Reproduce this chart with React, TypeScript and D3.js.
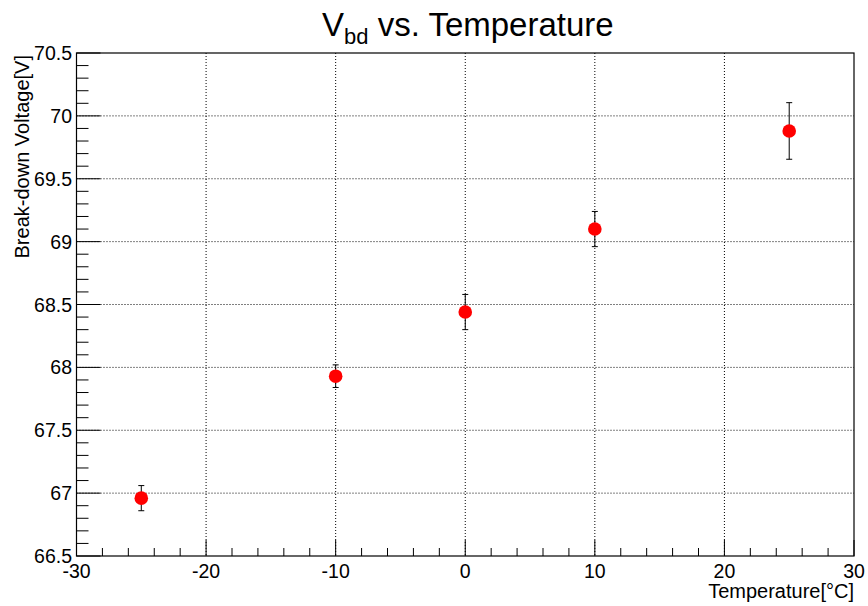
import React from "react";
import * as d3 from "d3";

const temperatures = [-25, -10, 0, 10, 25];
const vbd = [66.96, 67.93, 68.44, 69.10, 69.88];
const vbdErr = [0.1, 0.09, 0.14, 0.14, 0.225];
const xTicks = [-30, -20, -10, 0, 10, 20, 30];
const yTicks = [66.5, 67, 67.5, 68, 68.5, 69, 69.5, 70, 70.5];

const W = 868, H = 606;
const L = 76.5, R = 854, T = 53, B = 556;

export default function App() {
  const x = d3.scaleLinear().domain([-30, 30]).range([L, R]);
  const y = d3.scaleLinear().domain([66.5, 70.5]).range([B, T]);
  const xMinor = d3.range(-30, 30.001, 2);
  const yMinor = d3.range(66.5, 70.5001, 0.1);
  const font = "'Liberation Sans', Arial, Helvetica, sans-serif";
  return (
    <svg width={W} height={H} style={{ position: "absolute", left: 0, top: 0 }} fontFamily={font}>
      <rect width={W} height={H} fill="#fff" />
      {/* grid */}
      {xTicks.slice(1, -1).map((t) => (
        <line key={"gx" + t} x1={x(t)} x2={x(t)} y1={T} y2={B} stroke="#000" strokeWidth={1} strokeDasharray="1,2" />
      ))}
      {yTicks.slice(1, -1).map((t) => (
        <line key={"gy" + t} x1={L} x2={R} y1={y(t)} y2={y(t)} stroke="#000" strokeWidth={1} strokeDasharray="1,2" />
      ))}
      {/* frame */}
      <rect x={L} y={T} width={R - L} height={B - T} fill="none" stroke="#000" strokeWidth={1.2} />
      {/* x ticks */}
      {xMinor.map((t, i) => (
        <line key={"xm" + i} x1={x(t)} x2={x(t)} y1={B} y2={B - (i % 5 === 0 ? 16 : 8)} stroke="#000" strokeWidth={1} />
      ))}
      {yMinor.map((t, i) => (
        <line key={"ym" + i} x1={L} x2={L + (i % 5 === 0 ? 24 : 12)} y1={y(t)} y2={y(t)} stroke="#000" strokeWidth={1} />
      ))}
      {xTicks.map((t) => (
        <text key={"xl" + t} x={x(t)} y={577.5} textAnchor="middle" fontSize={19.5} fill="#000">{t}</text>
      ))}
      {yTicks.map((t) => (
        <text key={"yl" + t} x={72} y={y(t) + 7} textAnchor="end" fontSize={19.5} fill="#000">{t}</text>
      ))}
      {/* axis titles */}
      <text x={R} y={598} textAnchor="end" fontSize={20} fill="#000">Temperature[°C]</text>
      <text transform={`translate(29,${T + 2}) rotate(-90)`} textAnchor="end" fontSize={20} fill="#000">Break-down Voltage[V]</text>
      {/* title */}
      <text x={322} y={36} fontSize={33} fill="#000">
        V<tspan fontSize={22} dy={8}>bd</tspan><tspan dy={-8}> vs. Temperature</tspan>
      </text>
      {/* error bars and points */}
      {temperatures.map((t, i) => (
        <g key={"p" + i}>
          <line x1={x(t)} x2={x(t)} y1={y(vbd[i] - vbdErr[i])} y2={y(vbd[i] + vbdErr[i])} stroke="#000" strokeWidth={1} />
          <line x1={x(t) - 3} x2={x(t) + 3} y1={y(vbd[i] - vbdErr[i])} y2={y(vbd[i] - vbdErr[i])} stroke="#000" strokeWidth={1} />
          <line x1={x(t) - 3} x2={x(t) + 3} y1={y(vbd[i] + vbdErr[i])} y2={y(vbd[i] + vbdErr[i])} stroke="#000" strokeWidth={1} />
          <circle cx={x(t)} cy={y(vbd[i])} r={6.8} fill="#ff0000" />
        </g>
      ))}
    </svg>
  );
}
